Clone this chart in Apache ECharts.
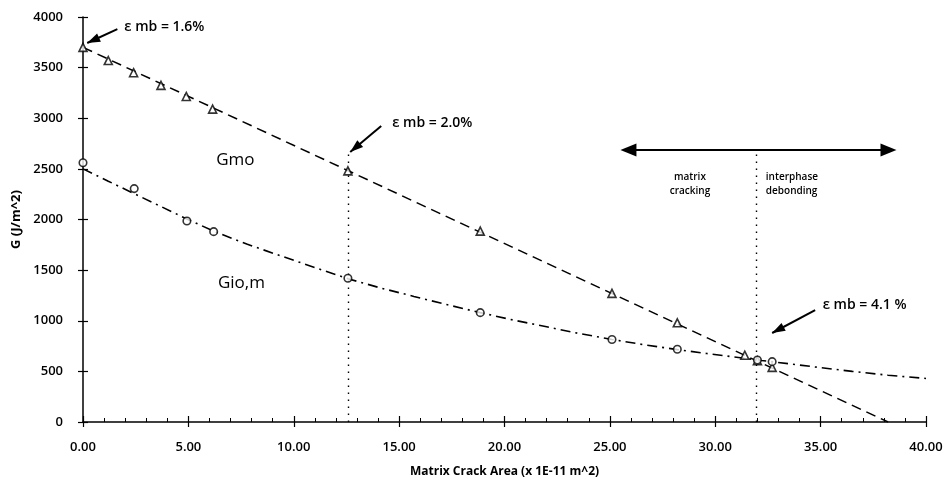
<!DOCTYPE html>
<html><head><meta charset="utf-8">
<script src="https://cdn.jsdelivr.net/npm/echarts@6/dist/echarts.min.js"></script>
<style>html,body{margin:0;padding:0;background:#fff}#c{width:946px;height:481px}</style>
</head><body><div id="c"></div>
<script>
// ---- data ----
const xRange = [0, 40];
const yRange = [0, 4000];
const gmoPoints = [[0,3700],[1.2,3570],[2.4,3450],[3.7,3325],[4.9,3215],[6.15,3090],[12.57,2480],[18.85,1885],[25.1,1270],[28.2,980],[31.4,660],[32.0,605],[32.7,540]];
const gioPoints = [[0,2560],[2.43,2305],[4.93,1985],[6.2,1880],[12.57,1420],[18.85,1080],[25.1,815],[28.2,718],[32.0,612],[32.7,596]];
const gmoTrend = [[0,3700],[38.2,0]];
const gioTrend = [[0,2500],[1.2,2378],[2.43,2255],[3.7,2128],[4.93,2005],[6.2,1885],[7.8,1755],[9.4,1640],[11,1525],[12.57,1415],[14.1,1325],[15.7,1240],[17.3,1158],[18.85,1080],[20.4,1008],[22,940],[23.5,876],[25.1,815],[26.6,764],[28.2,715],[29.6,676],[31,640],[32.2,608],[33.5,575],[35,537],[36.5,500],[38.2,462],[40,430]];
const strainMarkers = [[12.57,2670],[31.95,2686]];
const regionArrow = [[25.5,2686],[38.6,2686]];
const strainNotes = [
  {text:'ε mb = 1.6%', tail:[1.63,3881], tip:[0.2,3743], at:[1.96,3900]},
  {text:'ε mb = 2.0%', tail:[14.15,2923], tip:[12.68,2667], at:[14.67,2953]},
  {text:'ε mb = 4.1 %', tail:[34.74,1106], tip:[32.7,879], at:[35.1,1156]}
];
const curveLabels = [{text:'Gmo', at:[6.32,2588]},{text:'Gio,m', at:[6.4,1373]}];
const regionLabels = [{text:'matrix\ncracking', at:[28.8,2350], align:'center'},{text:'interphase\ndebonding', at:[32.4,2350], align:'left'}];

const FONT = 'Open Sans';
const chart = echarts.init(document.getElementById('c'));
const baseX = {type:'value', min:xRange[0], max:xRange[1], interval:5, position:'bottom', splitLine:{show:false}};
const baseY = {type:'value', min:yRange[0], max:yRange[1], interval:500, position:'left', splitLine:{show:false}};
chart.setOption({
  animation:false,
  backgroundColor:'#fff',
  grid:{left:83, right:20, top:17, bottom:59, containLabel:false, outerBoundsMode:'none'},
  xAxis:[
    Object.assign({}, baseX, {
      axisLine:{show:true, lineStyle:{color:'#000', width:1.5}},
      axisTick:{show:true, inside:false, length:5, lineStyle:{color:'#000', width:1.2}},
      axisLabel:{formatter:v=>v.toFixed(2), margin:19, fontSize:13, fontWeight:600, color:'#000', fontFamily:FONT},
      name:'Matrix Crack Area (x 1E-11 m^2)', nameLocation:'middle', nameGap:44,
      nameTextStyle:{fontWeight:'bold', fontSize:12, color:'#000', fontFamily:FONT}
    }),
    Object.assign({}, baseX, {
      axisLine:{show:false},
      axisTick:{show:true, inside:true, length:6, lineStyle:{color:'#000', width:1.2}},
      minorTick:{show:true, splitNumber:5, length:4, lineStyle:{color:'#000', width:1}},
      axisLabel:{show:false}
    })
  ],
  yAxis:[
    Object.assign({}, baseY, {
      axisLine:{show:true, lineStyle:{color:'#000', width:1.5}},
      axisTick:{show:true, inside:false, length:5, lineStyle:{color:'#000', width:1.2}},
      axisLabel:{formatter:v=>String(v), margin:20, fontSize:13, fontWeight:600, color:'#000', fontFamily:FONT},
      name:'G (J/m^2)', nameLocation:'middle', nameGap:57,
      nameTextStyle:{fontWeight:'bold', fontSize:13, color:'#000', fontFamily:FONT}
    }),
    Object.assign({}, baseY, {
      axisLine:{show:false},
      axisTick:{show:true, inside:true, length:5, lineStyle:{color:'#000', width:1.2}},
      axisLabel:{show:false}
    })
  ],
  series:[
    {type:'line', data:gmoTrend, showSymbol:false, silent:true, z:2,
     lineStyle:{color:'#000', width:1.6, type:[10,6]},
     markLine:{silent:true, symbol:'none', label:{show:false},
       lineStyle:{color:'#000', width:1.4, type:[1.5,5.5]},
       data: strainMarkers.map(p=>[{coord:[p[0],0]},{coord:[p[0],p[1]]}])}},
    {type:'line', data:gioTrend, showSymbol:false, silent:true, z:2,
     lineStyle:{color:'#000', width:1.6, type:[10,5,2,5]}},
    {type:'scatter', data:gmoPoints, symbol:'triangle', symbolSize:8, z:5,
     itemStyle:{color:'#fff', borderColor:'#000', borderWidth:1.6}},
    {type:'scatter', data:gioPoints, symbol:'circle', symbolSize:7.5, z:5,
     itemStyle:{color:'#fff', borderColor:'#000', borderWidth:1.6}}
  ]
});

function px(p){ return chart.convertToPixel({xAxisIndex:0, yAxisIndex:0}, p); }
function head(tail, tip, L, W){
  const dx = tip[0]-tail[0], dy = tip[1]-tail[1];
  const len = Math.hypot(dx,dy); const ux = dx/len, uy = dy/len; const nx = -uy, ny = ux;
  const bx = tip[0]-ux*L, by = tip[1]-uy*L;
  return {type:'polygon', shape:{points:[tip,[bx+nx*W,by+ny*W],[bx-nx*W,by-ny*W]]}, style:{fill:'#000'}, z:20};
}
const g = [];
strainNotes.forEach(n=>{
  const a = px(n.tail), b = px(n.tip), t = px(n.at);
  g.push({type:'line', shape:{x1:a[0],y1:a[1],x2:b[0],y2:b[1]}, style:{stroke:'#000', lineWidth:2}, z:20});
  g.push(head(a,b,13,4.5));
  g.push({type:'text', x:t[0], y:t[1], style:{text:n.text, font:'600 14px "'+FONT+'"', fill:'#000', textAlign:'left', textVerticalAlign:'middle'}, z:20});
});
curveLabels.forEach(c=>{
  const t = px(c.at);
  g.push({type:'text', x:t[0], y:t[1], style:{text:c.text, font:'17px "'+FONT+'"', fill:'#000', textAlign:'left', textVerticalAlign:'middle'}, z:20});
});
regionLabels.forEach(c=>{
  const t = px(c.at);
  g.push({type:'text', x:t[0], y:t[1], style:{text:c.text, font:'600 10px "'+FONT+'"', lineHeight:14, fill:'#000', textAlign:c.align, textVerticalAlign:'middle'}, z:20});
});
{
  const a = px(regionArrow[0]), b = px(regionArrow[1]);
  g.push({type:'line', shape:{x1:a[0]+10,y1:a[1],x2:b[0]-10,y2:b[1]}, style:{stroke:'#000', lineWidth:2}, z:20});
  g.push(head(b,a,16,6.5));
  g.push(head(a,b,16,6.5));
}
chart.setOption({graphic:g});
</script>
</body></html>
